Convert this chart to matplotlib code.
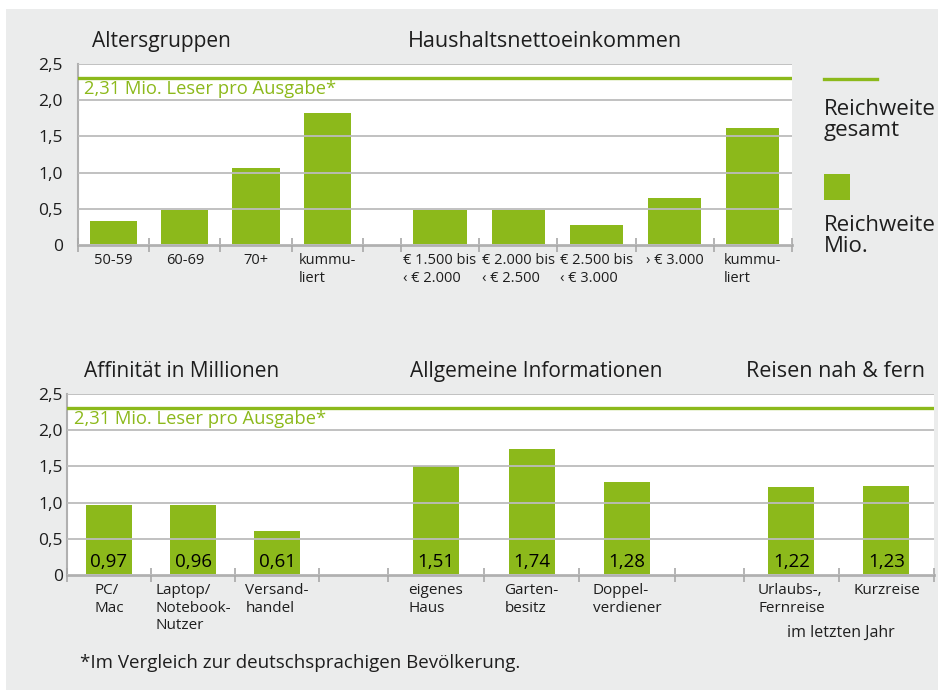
import numpy as np
import matplotlib.pyplot as plt
from matplotlib.patches import Rectangle
from matplotlib.lines import Line2D

plt.rcParams['font.family'] = ['Open Sans', 'DejaVu Sans']

# Daten (Mio. Leser)
reach_total = 2.31
ref_text = "2,31 Mio. Leser pro Ausgabe*"

age_labels = ["50-59", "60-69", "70+", "kummu-\nliert"]
age_values = [0.33, 0.48, 1.07, 1.83]

income_labels = ["€ 1.500 bis\n‹ € 2.000", "€ 2.000 bis\n‹ € 2.500",
                 "€ 2.500 bis\n‹ € 3.000", "› € 3.000", "kummu-\nliert"]
income_values = [0.48, 0.48, 0.27, 0.65, 1.61]

affin_labels = ["PC/\nMac", "Laptop/\nNotebook-\nNutzer", "Versand-\nhandel"]
affin_values = [0.97, 0.96, 0.61]

info_labels = ["eigenes\nHaus", "Garten-\nbesitz", "Doppel-\nverdiener"]
info_values = [1.51, 1.74, 1.28]

travel_labels = ["Urlaubs-,\nFernreise", "Kurzreise"]
travel_values = [1.22, 1.23]

yticks = [0, 0.5, 1.0, 1.5, 2.0, 2.5]

green = '#8cb91b'
grid_grey = '#bcbcbc'
bg = '#ebecec'
txt = '#1e1e1e'

W, H = 938, 697
fig = plt.figure(figsize=(W / 100, H / 100), dpi=100)
fig.patch.set_facecolor('white')
fig.patches.append(Rectangle((6 / W, 7 / H), 1, 681 / H, transform=fig.transFigure,
                             facecolor=bg, edgecolor='none', zorder=-5))


def px_axes(l, t, r, b):
    return fig.add_axes([l / W, 1 - b / H, (r - l) / W, (b - t) / H])


def ftext(x, y, s, **kw):
    fig.text(x / W, 1 - y / H, s, color=kw.pop('color', txt), **kw)


def panel(ax, groups, gap, label_size, ypad, with_values):
    # groups: (labels, values, slot width, bar width)
    x0 = 0
    bounds = [0]
    centers, labels, values, widths = [], [], [], []
    for i, (labs, vals, sw, bw) in enumerate(groups):
        if i > 0:
            x0 += gap
            bounds.append(x0)
        for lab, v in zip(labs, vals):
            centers.append(x0 + sw / 2)
            labels.append(lab)
            values.append(v)
            widths.append(bw)
            x0 += sw
            bounds.append(x0)

    ax.set_facecolor('white')
    ax.bar(centers, values, width=widths, color=green, zorder=1)
    ax.set_xlim(0, x0)
    ax.set_ylim(0, 2.5)
    ax.set_axisbelow(False)
    ax.yaxis.grid(True, color=grid_grey, lw=1.3, zorder=2)
    ax.set_yticks(yticks, ["0" if t == 0 else f"{t:.1f}".replace('.', ',') for t in yticks])
    ax.tick_params(axis='y', length=0, pad=ypad, labelsize=12.5, labelcolor=txt)

    ax.set_xticks(bounds, [""] * len(bounds))
    ax.tick_params(axis='x', which='major', direction='inout', length=10, width=1.2, color='#a8a8a8')
    ax.set_xticks(centers, labels, minor=True)
    ax.tick_params(axis='x', which='minor', length=0, pad=6, labelsize=label_size, labelcolor=txt)
    for lab in ax.get_xticklabels(minor=True):
        lab.set_multialignment('left')

    for s in ['top', 'right']:
        ax.spines[s].set_visible(False)
    ax.spines['left'].set_color('#b0b0b0')
    ax.spines['left'].set_linewidth(1.5)
    ax.spines['bottom'].set_color('#b0b0b0')
    ax.spines['bottom'].set_linewidth(2)

    ax.axhline(reach_total, color=green, lw=2.4, zorder=3)
    ax.text(0.008, 2.16, ref_text, transform=ax.get_yaxis_transform(),
            color=green, fontsize=13.2, va='center', ha='left', zorder=4)

    if with_values:
        for c, v in zip(centers, values):
            ax.text(c, 0.18, f"{v:.2f}".replace('.', ','), ha='center', va='center',
                    fontsize=13.5, fontweight='medium', color='black', zorder=4)


# oberes Diagramm
ax1 = px_axes(78, 64, 792, 245)
panel(ax1, [(age_labels, age_values, 71, 47), (income_labels, income_values, 78, 53)],
      gap=38, label_size=10.5, ypad=11, with_values=False)

# unteres Diagramm
ax2 = px_axes(67, 394, 934, 575)
panel(ax2, [(affin_labels, affin_values, 84, 46), (info_labels, info_values, 95.5, 46),
            (travel_labels, travel_values, 95, 46)],
      gap=69, label_size=11, ypad=3, with_values=True)

# Überschriften
ftext(92, 47, "Altersgruppen", fontsize=15, va='baseline')
ftext(408, 47, "Haushaltsnettoeinkommen", fontsize=15.5, va='baseline')
ftext(84, 377, "Affinität in Millionen", fontsize=15, va='baseline')
ftext(410, 377, "Allgemeine Informationen", fontsize=15, va='baseline')
ftext(746, 377, "Reisen nah & fern", fontsize=15.5, va='baseline')

# Legende
fig.add_artist(Line2D([824 / W, 877 / W], [1 - 79 / H] * 2, color=green, lw=2.4))
ftext(824, 99, "Reichweite\ngesamt", fontsize=16, va='top', linespacing=1.0)
fig.patches.append(Rectangle((824 / W, 1 - 200 / H), 26 / W, 26 / H,
                             transform=fig.transFigure, facecolor=green, edgecolor='none'))
ftext(824, 215, "Reichweite\nMio.", fontsize=16, va='top', linespacing=1.0)

ftext(787, 633, "im letzten Jahr", fontsize=11.5, va='center')
ftext(80, 663, "*Im Vergleich zur deutschsprachigen Bevölkerung.", fontsize=13.5, va='center')

fig.savefig("out.png", dpi=100)
